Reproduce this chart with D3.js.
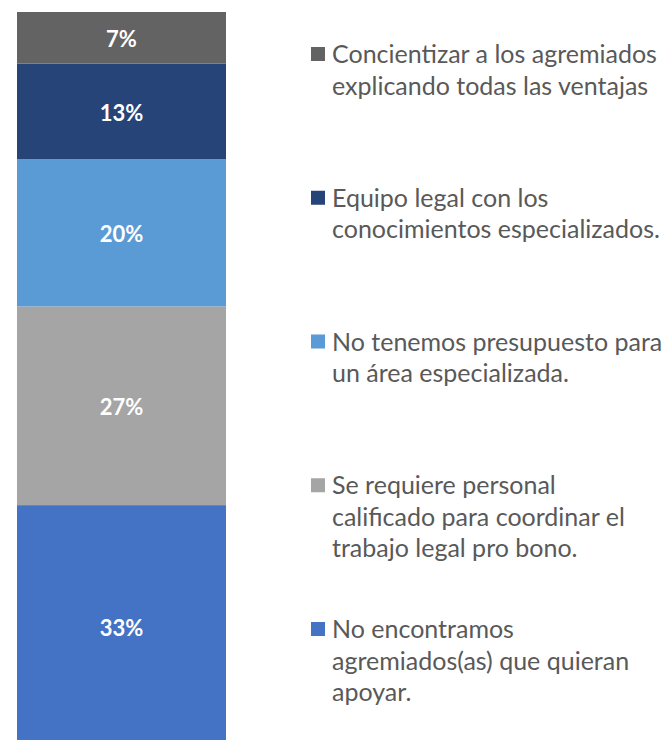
<!DOCTYPE html>
<html>
<head>
<meta charset="utf-8">
<script src="https://cdn.jsdelivr.net/npm/d3@7"></script>
<style>
  html, body { margin: 0; padding: 0; background: #fff; }
  svg { display: block; }
</style>
</head>
<body>
<svg id="chart" width="663" height="740"></svg>
<script>
// Series, bottom of the stack first
const categories = [
  "No encontramos agremiados(as) que quieran apoyar.",
  "Se requiere personal calificado para coordinar el trabajo legal pro bono.",
  "No tenemos presupuesto para un área especializada.",
  "Equipo legal con los conocimientos especializados.",
  "Concientizar a los agremiados explicando todas las ventajas"
];
const values = [33, 27, 20, 13, 7];
const colors = ["#4472C4", "#A5A5A5", "#5B9BD5", "#264478", "#636363"];
// Wrapped legend lines for each series
const legendLines = [
  ["No encontramos", "agremiados(as) que quieran", "apoyar."],
  ["Se requiere personal", "calificado para coordinar el", "trabajo legal pro bono."],
  ["No tenemos presupuesto para", "un área especializada."],
  ["Equipo legal con los", "conocimientos especializados."],
  ["Concientizar a los agremiados", "explicando todas las ventajas"]
];

const svg = d3.select("#chart");
const font = "Lato, 'Open Sans', sans-serif";

// One stacked column
const row = {};
categories.forEach((c, i) => row[c] = values[i]);
const stack = d3.stack().keys(categories)([row]);

const x = d3.scaleBand().domain(["total"]).range([17, 226]).padding(0);
const y = d3.scaleLinear().domain([0, 100]).range([748, 12]);

const seg = svg.append("g").selectAll("g")
  .data(stack)
  .join("g");

seg.append("rect")
  .attr("x", x("total"))
  .attr("width", x.bandwidth())
  .attr("y", d => y(d[0][1]))
  .attr("height", d => y(d[0][0]) - y(d[0][1]))
  .attr("fill", (d, i) => colors[i]);

seg.append("text")
  .attr("x", x("total") + x.bandwidth() / 2)
  .attr("y", d => (y(d[0][0]) + y(d[0][1])) / 2 + 1)
  .attr("text-anchor", "middle")
  .attr("dominant-baseline", "central")
  .attr("fill", "#fff")
  .attr("font-family", font)
  .attr("font-weight", 700)
  .attr("font-size", 22)
  .text((d, i) => values[i] + "%");

// Legend, listed top to bottom in reverse stack order
const order = d3.range(categories.length).reverse();
const ly = d3.scalePoint().domain(order).range([63, 638]);
const lineH = 31.5;

const leg = svg.append("g").selectAll("g")
  .data(order)
  .join("g")
  .attr("transform", i => `translate(0,${ly(i)})`);

leg.append("rect")
  .attr("x", 311)
  .attr("y", -16)
  .attr("width", 14)
  .attr("height", 14)
  .attr("fill", i => colors[i]);

leg.append("text")
  .attr("font-family", font)
  .attr("font-size", 25)
  .attr("fill", "#595959")
  .selectAll("tspan")
  .data(i => legendLines[i])
  .join("tspan")
  .attr("x", 332)
  .attr("y", (d, j) => j * lineH)
  .text(d => d);
</script>
</body>
</html>
